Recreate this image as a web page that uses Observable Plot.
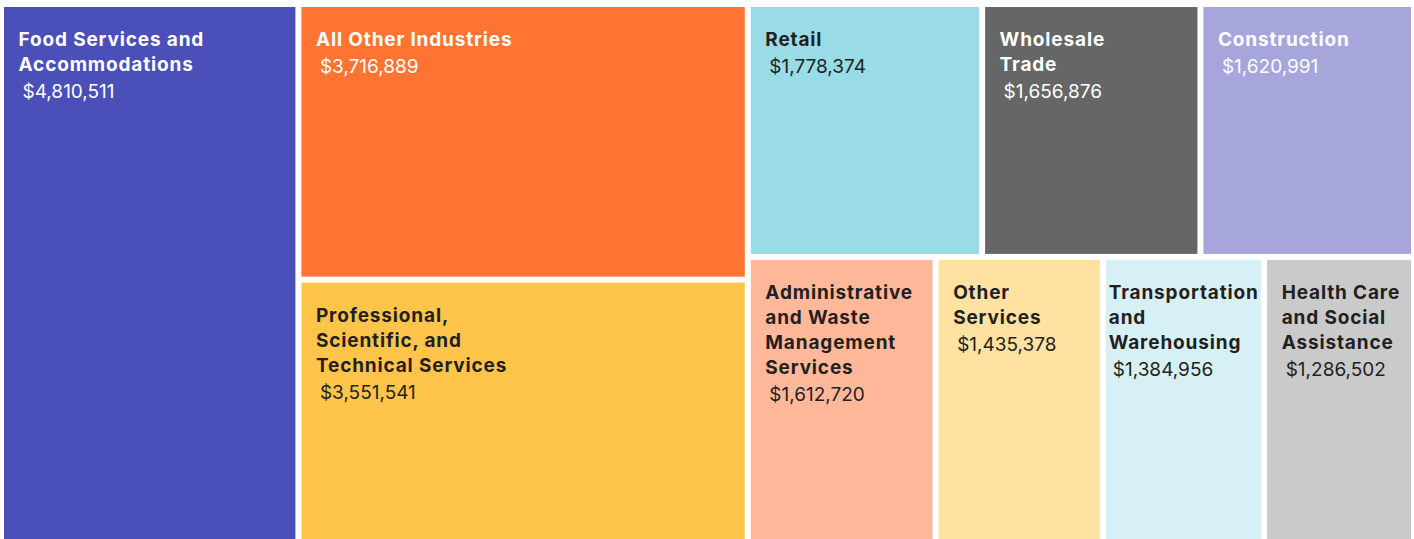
<!DOCTYPE html>
<html>
<head>
<meta charset="utf-8">
<script src="https://cdn.jsdelivr.net/npm/d3@7"></script>
<script src="https://cdn.jsdelivr.net/npm/@observablehq/plot@0.6"></script>
<style>
  html, body { margin: 0; padding: 0; background: #fff; }
  #chart svg { display: block; }
  #chart .lbl, #chart .lbl text { letter-spacing: 0.85px; }
</style>
</head>
<body>
<div id="chart"></div>
<script>
// Data
const categories = [
  "Food Services and Accommodations",
  "All Other Industries",
  "Professional, Scientific, and Technical Services",
  "Retail",
  "Wholesale Trade",
  "Construction",
  "Administrative and Waste Management Services",
  "Other Services",
  "Transportation and Warehousing",
  "Health Care and Social Assistance"
];
const labelLines = [
  "Food Services and\nAccommodations",
  "All Other Industries",
  "Professional,\nScientific, and\nTechnical Services",
  "Retail",
  "Wholesale\nTrade",
  "Construction",
  "Administrative\nand Waste\nManagement\nServices",
  "Other\nServices",
  "Transportation\nand\nWarehousing",
  "Health Care\nand Social\nAssistance"
];
const values = [4810511, 3716889, 3551541, 1778374, 1656876, 1620991, 1612720, 1435378, 1384956, 1286502];
const fillColors = ["#4b4fb9", "#ff7433", "#ffc54a", "#99dbe6", "#666666", "#a6a6dc", "#ffb899", "#ffe1a1", "#d7f0f5", "#cacaca"];
const textColors = ["#ffffff", "#ffffff", "#231f20", "#231f20", "#ffffff", "#ffffff", "#231f20", "#231f20", "#231f20", "#231f20"];
// grouping of tiles in the layout
const groupMiddle = [1, 2];
const groupTop = [3, 4, 5];
const groupBottom = [6, 7, 8, 9];

const W = 1414, H = 539;
const leaf = i => ({name: categories[i], index: i, value: values[i]});
const tree = {
  name: "root",
  children: [
    leaf(0),
    {name: "middle", children: groupMiddle.map(leaf)},
    {name: "rest", children: [
      {name: "top", children: groupTop.map(leaf)},
      {name: "bottom", children: groupBottom.map(leaf)}
    ]}
  ]
};

const root = d3.hierarchy(tree).sum(d => d.value || 0);
d3.treemap().tile(d3.treemapSliceDice).size([1407, 533]).paddingInner(6).round(false)(root);

const padX = 14, padTop = 21, lineH = 25, fs = 19, spacing = 0.85;
const fontFamily = "Inter, 'Noto Sans', sans-serif";

// measure label widths so that labels stay inside their tile
const ctx = document.createElement("canvas").getContext("2d");
ctx.font = `700 ${fs}px ${fontFamily}`;
const labelWidth = s => d3.max(s.split("\n"), l => ctx.measureText(l).width + l.length * spacing);

const offX = 4, offY = 7;
const tiles = root.leaves().map(n => {
  const i = n.data.index;
  const x0 = n.x0 + offX, x1 = n.x1 + offX;
  return {
    name: categories[i],
    label: labelLines[i],
    lines: labelLines[i].split("\n").length,
    value: values[i],
    valueText: "$" + d3.format(",")(values[i]),
    fill: fillColors[i],
    color: textColors[i],
    x0, x1,
    y0: n.y0 + offY, y1: n.y1 + offY,
    tx: Math.min(x0 + padX, x1 - labelWidth(labelLines[i]) - 3)
  };
});

const chart = Plot.plot({
  width: W,
  height: H,
  margin: 0,
  x: {domain: [0, W], range: [0, W], axis: null},
  y: {domain: [0, H], range: [0, H], axis: null},
  color: {type: "identity"},
  style: {fontFamily, background: "#fff"},
  marks: [
    Plot.rect(tiles, {x1: "x0", x2: "x1", y1: "y0", y2: "y1", fill: "fill"}),
    Plot.text(tiles, {
      x: "tx",
      y: d => d.y0 + padTop,
      text: "label",
      fill: "color",
      textAnchor: "start",
      lineAnchor: "top",
      lineHeight: lineH / fs,
      fontSize: fs,
      fontWeight: 700,
      className: "lbl"
    }),
    Plot.text(tiles, {
      x: "tx",
      y: d => d.y0 + padTop + d.lines * lineH + 6,
      dx: 4,
      text: "valueText",
      fill: "color",
      textAnchor: "start",
      lineAnchor: "top",
      fontSize: fs,
      fontWeight: 400
    })
  ]
});
document.getElementById("chart").appendChild(chart);
</script>
</body>
</html>
